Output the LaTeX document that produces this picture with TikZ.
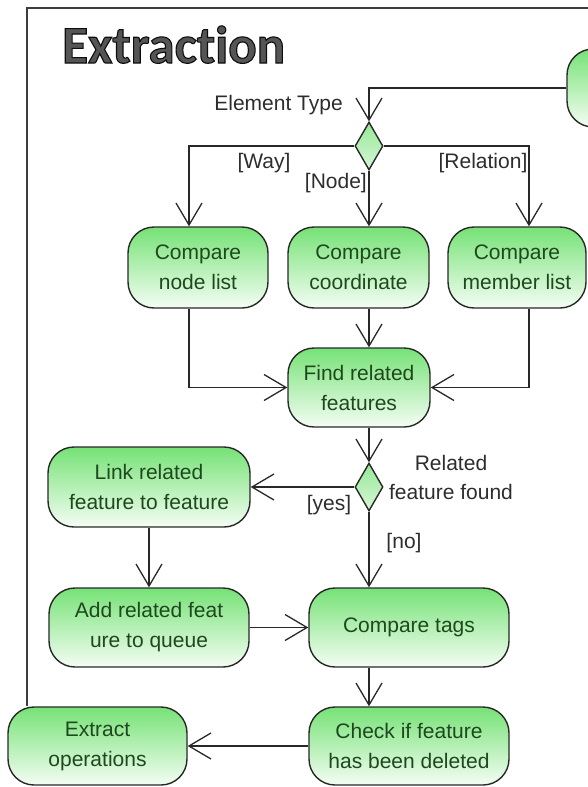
\documentclass[tikz,border=0pt]{standalone}
\usepackage{fontspec}
\setmainfont{Liberation Sans}
\newfontfamily\bodyfont{Liberation Sans}
\newfontfamily\titlefont[Ligatures={NoCommon,NoRare,NoDiscretionary}]{Carlito}
\usetikzlibrary{arrows.meta,shapes.geometric,calc}
\definecolor{edge}{RGB}{40,40,40}
\definecolor{gtop}{RGB}{118,226,118}
\definecolor{gmid}{RGB}{170,238,170}
\definecolor{gbot}{RGB}{244,253,244}
\definecolor{dtop}{RGB}{150,232,150}
\definecolor{dbot}{RGB}{215,246,215}
\definecolor{txtgreen}{RGB}{30,72,30}
\definecolor{lblc}{RGB}{45,45,45}
\definecolor{titlefill}{RGB}{85,85,85}
\newcommand{\outlinedtitle}[1]{%
  \special{pdf:literal direct 2 Tr 0.05 0.05 0.05 RG 1.1 w}#1\special{pdf:literal direct 0 Tr}}
\begin{document}
\begin{tikzpicture}[x=1pt,y=-1pt,
  act/.style={draw=edge, line width=1.4pt, rounded corners=26pt,
    top color=gtop, middle color=gmid, bottom color=gbot,
    align=center, inner sep=0pt, text=txtgreen,
    font=\bodyfont\fontsize{21}{30}\selectfont},
  dec/.style={diamond, draw=edge, line width=1.4pt,
    top color=dtop, bottom color=dbot,
    minimum width=28pt, minimum height=48pt, inner sep=0pt},
  arr/.style={draw=edge, line width=1.3pt,
    -{Straight Barb[length=22pt,width=26pt,line width=1.3pt]}},
  framel/.style={draw=edge!90, line width=1.5pt},
  ttl/.style={anchor=base west, inner sep=0pt, text=titlefill,
    font=\titlefont\bfseries\fontsize{53}{53}\selectfont},
  lbl/.style={text=lblc, inner sep=0pt, font=\bodyfont\fontsize{21}{29}\selectfont}]
\useasboundingbox (0,0) rectangle (587,787);

% frame
\coordinate (fTL) at (27,8);
\coordinate (fTR) at (650,8);

% title
\node[ttl] (title) at (62,63) {\outlinedtitle{Extraction}};

% activity nodes
\node[act, minimum width=82pt, minimum height=78pt] (start) at (608,88) {};
\node[dec] (d1) at (369,146) {};
\node[act, minimum width=140pt, minimum height=81pt] (cmp1) at (198,267.5) {Compare\\node list};
\node[act, minimum width=141pt, minimum height=81pt] (cmp2) at (358.5,267.5) {Compare\\coordinate};
\node[act, minimum width=138pt, minimum height=81pt] (cmp3) at (517,267.5) {Compare\\member list};
\node[act, minimum width=142pt, minimum height=79pt] (find) at (359,387.5) {Find related\\features};
\node[dec] (d2) at (369,487) {};
\node[act, minimum width=202pt, minimum height=80pt] (link) at (149,487) {Link related\\feature to feature};
\node[act, minimum width=200pt, minimum height=79pt] (add) at (149,627.5) {Add related feat\\ure to queue};
\node[act, minimum width=200pt, minimum height=79pt] (tags) at (409,627.5) {Compare tags};
\node[act, minimum width=200pt, minimum height=78pt] (check) at (409,746) {Check if feature\\has been deleted};
\node[act, minimum width=179pt, minimum height=78pt] (extract) at (97.5,746) {Extract\\operations};

\draw[framel] (fTR) -- (fTL) -- (fTL |- extract.north);

% connectors
\draw[arr] (start.west) -| (d1.north);
\draw[arr] (d1.west) -| ($(cmp1.north)+(-9,0)$);
\draw[arr] (d1.south) -- (d1.south |- cmp2.north);
\draw[arr] (d1.east) -| ($(cmp3.north)+(12,0)$);
\draw[arr] ($(cmp1.south)+(-9,0)$) |- (find.west);
\draw[arr] (d1.south |- cmp2.south) -- (d1.south |- find.north);
\draw[arr] ($(cmp3.south)+(12,0)$) |- (find.east);
\draw[arr] (d2.north |- find.south) -- (d2.north);
\draw[arr] (d2.west) -- (link.east);
\draw[arr] (d2.south) -- (d2.south |- tags.north);
\draw[arr] (link.south) -- (add.north);
\draw[arr] (add.east) -- (tags.west);
\draw[arr] (d2.south |- tags.south) -- (d2.south |- check.north);
\draw[arr] (check.west) -- (extract.east);

% guard labels
\node[lbl, anchor=east] (lType) at (343,105) {Element Type};
\node[lbl] (lWay) at (264,163) {[Way]};
\node[lbl, anchor=east] (lNode) at (367,183) {[Node]};
\node[lbl] (lRel) at (483,163) {[Relation]};
\node[lbl, align=center] (lFound) at (451,477.5) {Related\\feature found};
\node[lbl] (lYes) at (329,505) {[yes]};
\node[lbl] (lNo) at (404,543) {[no]};
\end{tikzpicture}
\end{document}
